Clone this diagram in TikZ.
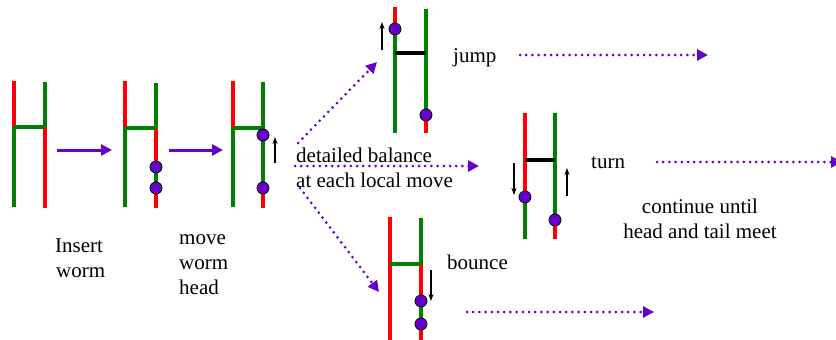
\documentclass[tikz,border=0pt]{standalone}
\usepackage{fontspec}
\setmainfont{Liberation Serif}
\usetikzlibrary{arrows.meta}
\definecolor{wred}{RGB}{255,0,0}
\definecolor{wgreen}{RGB}{0,128,0}
\definecolor{wpurple}{RGB}{102,0,204}
\tikzset{
  rl/.style={draw=wred,line width=4pt},
  gl/.style={draw=wgreen,line width=4pt},
  bl/.style={draw=black,line width=4pt},
  wdot/.style={circle,draw=black,line width=0.8pt,fill=wpurple,minimum size=12pt,inner sep=0pt},
  smallarr/.style={draw=black,line width=1.1pt,-{Stealth[length=7pt,width=5pt]}},
  bigarr/.style={draw=wpurple,line width=3pt,-{Triangle[length=11pt,width=11pt]}},
  dotarr/.style={draw=wpurple,line width=3pt,dash pattern=on 0pt off 6.2pt,line cap=round,-{Triangle[length=11pt,width=11pt]}},
  lbl/.style={inner sep=0pt,anchor=base west,font=\fontsize{21}{25}\selectfont},
  lblc/.style={inner sep=0pt,anchor=base,font=\fontsize{21}{25}\selectfont}
}
\begin{document}
\begin{tikzpicture}[x=1pt,y=-1pt]
\useasboundingbox (0,0) rectangle (836,340);
% ---------- diagram 1: insert worm
\draw[rl] (14,81) -- (14,127);
\draw[gl] (14,127) -- (14,207);
\draw[gl] (45,82) -- (45,127);
\draw[rl] (45,127) -- (45,208);
\draw[gl] (14,127) -- (45,127);
% ---------- diagram 2
\draw[rl] (125,81) -- (125,128);
\draw[gl] (125,128) -- (125,207);
\draw[gl] (156,83) -- (156,128);
\draw[rl] (156,128) -- (156,208);
\draw[gl] (156,167) -- (156,188);
\draw[gl] (125,128) -- (156,128);
\node[wdot] (d2a) at (156,167) {};
\node[wdot] (d2b) at (156,188) {};
% ---------- diagram 3
\draw[rl] (233,81) -- (233,128);
\draw[gl] (233,128) -- (233,207);
\draw[rl] (263,82) -- (263,208);
\draw[gl] (263,82) -- (263,188);
\draw[gl] (233,128) -- (263,128);
\node[wdot] (d3a) at (263,135) {};
\node[wdot] (d3b) at (263,188) {};
\coordinate (a3s) at (275,163); \coordinate (a3e) at (275,137);
\draw[smallarr] (a3s) -- (a3e);
% ---------- jump
\draw[rl] (395,7) -- (395,29);
\draw[gl] (395,29) -- (395,133);
\draw[rl] (426,9) -- (426,133);
\draw[gl] (426,9) -- (426,115);
\draw[bl] (395,53) -- (426,53);
\node[wdot] (ja) at (395,29) {};
\node[wdot] (jb) at (426,115) {};
\coordinate (ajs) at (382,50); \coordinate (aje) at (382,22);
\draw[smallarr] (ajs) -- (aje);
% ---------- turn
\draw[rl] (525,113) -- (525,197);
\draw[gl] (525,197) -- (525,239);
\draw[rl] (555,113) -- (555,239);
\draw[gl] (555,113) -- (555,220);
\draw[bl] (525,160) -- (555,160);
\node[wdot] (ta) at (525,197) {};
\node[wdot] (tb) at (555,220) {};
\coordinate (at1s) at (514,163); \coordinate (at1e) at (514,195);
\coordinate (at2s) at (567,196); \coordinate (at2e) at (567,168);
\draw[smallarr] (at1s) -- (at1e);
\draw[smallarr] (at2s) -- (at2e);
% ---------- bounce
\draw[rl] (390,217) -- (390,341);
\draw[gl] (421,218) -- (421,264);
\draw[rl] (421,264) -- (421,341);
\draw[gl] (421,301) -- (421,324);
\draw[gl] (390,264) -- (421,264);
\node[wdot] (ba) at (421,301) {};
\node[wdot] (bb) at (421,324) {};
\coordinate (abs) at (431,270); \coordinate (abe) at (431,301);
\draw[smallarr] (abs) -- (abe);
% ---------- solid arrows
\coordinate (s1a) at (57,150); \coordinate (s1b) at (112,150);
\coordinate (s2a) at (169,150); \coordinate (s2b) at (223,150);
\draw[bigarr] (s1a) -- (s1b);
\draw[bigarr] (s2a) -- (s2b);
% ---------- dotted arrows
\coordinate (u0) at (298,143); \coordinate (u1) at (377,62);
\coordinate (l0) at (300,188); \coordinate (l1) at (379,292);
\coordinate (m0) at (295,166); \coordinate (m1) at (479,166);
\coordinate (j0) at (520,55);  \coordinate (j1) at (708,55);
\coordinate (t0) at (657,162); \coordinate (t1) at (842,162);
\coordinate (b0) at (467,312); \coordinate (b1) at (654,312);
\draw[dotarr] (u0) -- (u1);
\draw[dotarr] (l0) -- (l1);
\draw[dotarr] (m0) -- (m1);
\draw[dotarr] (j0) -- (j1);
\draw[dotarr] (t0) -- (t1);
\draw[dotarr] (b0) -- (b1);
% ---------- labels
\node[lbl] (ins1) at (55,252) {Insert};
\node[lbl] (ins2) at (56,277) {worm};
\node[lbl] (mv1) at (179,244) {move};
\node[lbl] (mv2) at (179,269) {worm};
\node[lbl] (mv3) at (179,294) {head};
\node[lbl] (db1) at (296,162) {detailed balance};
\node[lbl] (db2) at (296,187) {at each local move};
\node[lbl] (jl) at (453,62) {jump};
\node[lbl] (tl) at (591,168) {turn};
\node[lbl] (bo) at (447,269) {bounce};
\node[lblc] (c1) at (700,213) {continue until};
\node[lblc] (c2) at (700,238) {head and tail meet};
\end{tikzpicture}
\end{document}
